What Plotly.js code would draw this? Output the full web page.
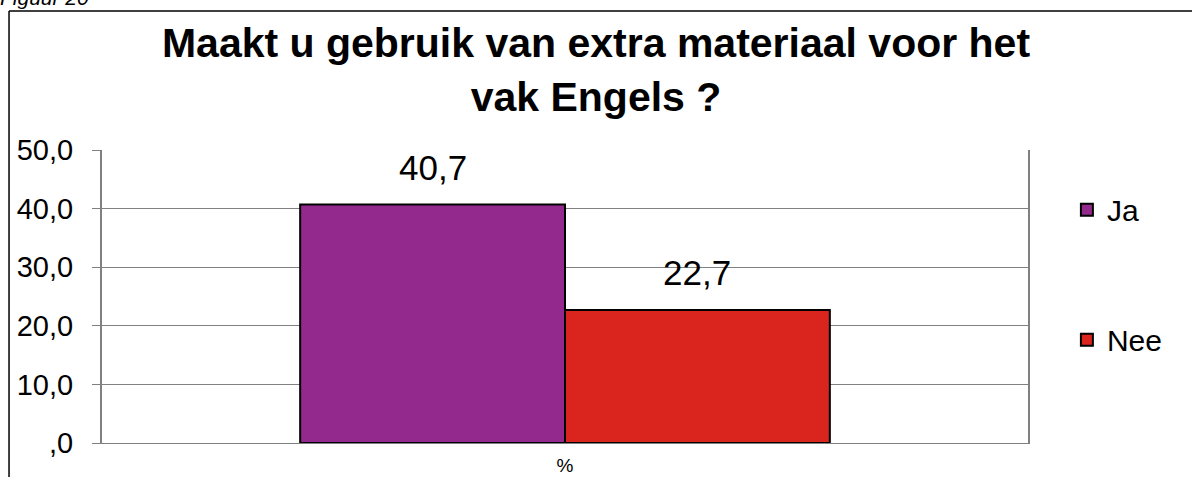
<!DOCTYPE html>
<html>
<head>
<meta charset="utf-8">
<script src="https://cdn.plot.ly/plotly-3.0.1.min.js"></script>
<style>html,body{margin:0;padding:0;background:#fff;}#chart{width:1192px;height:477px;}</style>
</head>
<body>
<div id="chart"></div>
<script>
var categories = ['%'];
var seriesNames = ['Ja', 'Nee'];
var seriesValues = [[40.7], [22.7]];
var seriesColors = ['#93298C', '#DA241E'];
var tickVals = [0, 10, 20, 30, 40, 50];
var tickText = [',0', '10,0', '20,0', '30,0', '40,0', '50,0'];
var titleText = 'Maakt u gebruik van extra materiaal voor het<br>vak Engels ?';

var FONT = 'Arial, Liberation Sans, sans-serif';
function fmt(v) { return v.toFixed(1).replace('.', ','); }

var traces = seriesNames.map(function (n, i) {
  return {
    type: 'bar', name: n, x: categories, y: seriesValues[i],
    marker: { color: seriesColors[i], line: { color: '#000', width: 2 } },
    legendgroup: n, hoverinfo: 'none'
  };
});

var barShift = [-132, 132];
var annotations = [];
seriesNames.forEach(function (n, i) {
  seriesValues[i].forEach(function (v, j) {
    annotations.push({
      x: categories[j], y: v, xref: 'x', yref: 'y', text: fmt(v), showarrow: false,
      xshift: barShift[i], yshift: 16, yanchor: 'bottom',
      font: { family: FONT, size: 35, color: '#000' }
    });
  });
});
annotations.push({
  xref: 'paper', yref: 'paper', x: -0.112, y: 1.52, xanchor: 'left', yanchor: 'middle',
  text: '<i>Figuur 20</i>', showarrow: false,
  font: { family: FONT, size: 21, color: '#000' }
});

var layout = {
  width: 1192, height: 477,
  margin: { l: 102, r: 164, t: 150, b: 34 },
  paper_bgcolor: '#fff', plot_bgcolor: '#fff',
  font: { family: FONT, color: '#000' },
  title: {
    text: titleText, xref: 'container', x: 0.5, xanchor: 'center', y: 0.88, yanchor: 'middle',
    font: { size: 41, family: FONT, weight: 'bold', color: '#000' }
  },
  barmode: 'group', bargap: 0.428, bargroupgap: 0,
  showlegend: true,
  legend: {
    x: 1.042, xanchor: 'left', y: 0.885, yanchor: 'top',
    traceorder: 'grouped', tracegroupgap: 88,
    font: { size: 30, family: FONT, color: '#000' },
    itemclick: false, itemdoubleclick: false
  },
  xaxis: {
    type: 'category', showgrid: false, zeroline: false,
    showline: true, linecolor: '#808080', linewidth: 1, mirror: false,
    ticks: '', tickfont: { size: 19 }, ticklabelstandoff: 5, fixedrange: true
  },
  yaxis: {
    range: [0, 50], tickvals: tickVals, ticktext: tickText,
    showgrid: true, gridcolor: '#808080', gridwidth: 1,
    zeroline: false, showline: true, linecolor: '#808080', linewidth: 2, mirror: true,
    ticks: 'outside', ticklen: 8, tickcolor: '#808080', tickwidth: 1,
    tickfont: { size: 29 }, ticklabelstandoff: 13, fixedrange: true
  },
  annotations: annotations,
  shapes: [
    { type: 'line', xref: 'paper', yref: 'paper', x0: -0.1004, x1: 1.3, y0: 1.4744, y1: 1.4744, line: { color: '#000', width: 1.5 } },
    { type: 'line', xref: 'paper', yref: 'paper', x0: -0.1004, x1: -0.1004, y0: 1.4744, y1: -0.3, line: { color: '#000', width: 1.5 } }
  ]
};

Plotly.newPlot('chart', traces, layout, { displayModeBar: false, staticPlot: true });
</script>
</body>
</html>
